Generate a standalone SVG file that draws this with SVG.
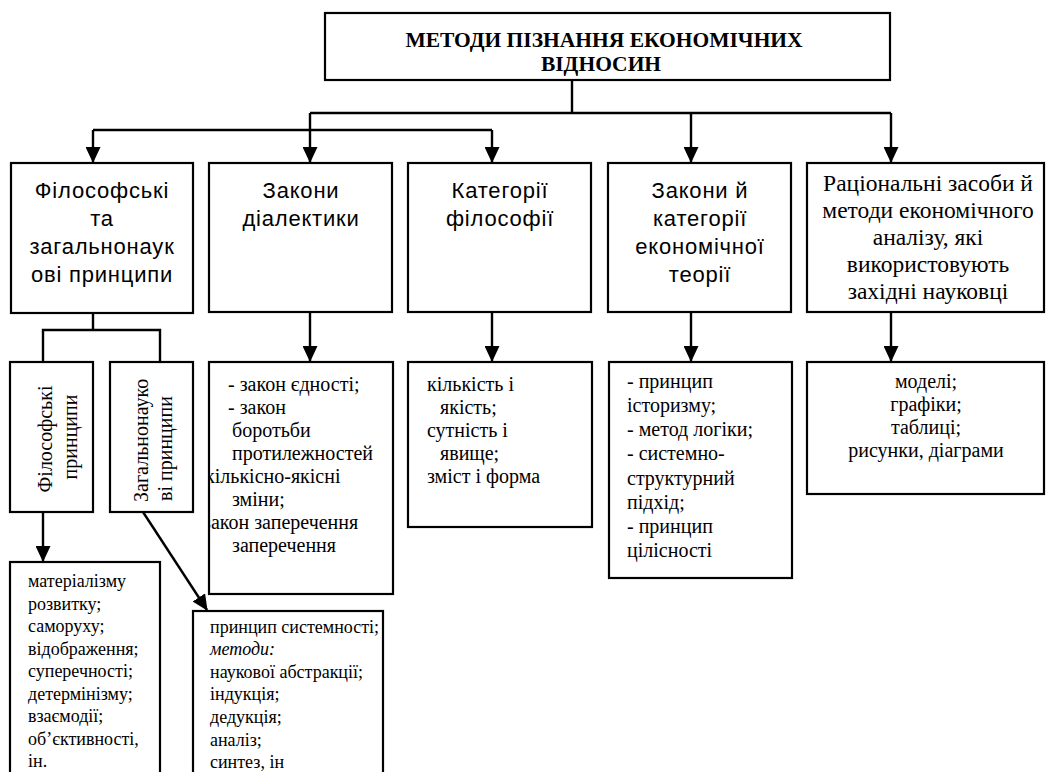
<svg xmlns="http://www.w3.org/2000/svg" width="1046" height="772" viewBox="0 0 1046 772">
<style>
.box{fill:#fff;stroke:#000;stroke-width:2.2}
.ln{fill:none;stroke:#000;stroke-width:2.4}
.title{font-family:"Liberation Serif","Times New Roman",serif;font-weight:bold;font-size:21.5px;text-anchor:middle}
.sans{font-family:"Liberation Sans",Arial,sans-serif;font-size:22px;letter-spacing:0.8px;text-anchor:middle}
.ser24{font-family:"Liberation Serif","Times New Roman",serif;font-size:23.5px;text-anchor:middle}
.ser20{font-family:"Liberation Serif","Times New Roman",serif;font-size:20px}
.ser18{font-family:"Liberation Serif","Times New Roman",serif;font-size:18px}
.mid{text-anchor:middle}
</style>
<defs>
<marker id="arr" markerUnits="userSpaceOnUse" markerWidth="16" markerHeight="15" refX="15" refY="7.5" orient="auto">
<path d="M0,0 L16,7.5 L0,15 Z" fill="#000"/>
</marker>
<clipPath id="clipE"><rect x="209" y="362" width="184" height="232"/></clipPath>
</defs>

<g id="connectors">
<path class="ln" d="M572,80 V113"/>
<path class="ln" d="M310,113 H891"/>
<path class="ln" d="M93,130 H492"/>
<path class="ln" d="M93,130 V162" marker-end="url(#arr)"/>
<path class="ln" d="M310,113 V162" marker-end="url(#arr)"/>
<path class="ln" d="M492,130 V162" marker-end="url(#arr)"/>
<path class="ln" d="M691,113 V162" marker-end="url(#arr)"/>
<path class="ln" d="M891,113 V162" marker-end="url(#arr)"/>
<path class="ln" d="M93,313 V330 M43,362 V330 H160 V362"/>
<path class="ln" d="M310,312 V361" marker-end="url(#arr)"/>
<path class="ln" d="M492,312 V361" marker-end="url(#arr)"/>
<path class="ln" d="M691,312 V361" marker-end="url(#arr)"/>
<path class="ln" d="M891,312 V361" marker-end="url(#arr)"/>
<path class="ln" d="M43,512 V561" marker-end="url(#arr)"/>
<path class="ln" d="M143,512 L207,610" marker-end="url(#arr)"/>
</g>

<g id="title">
<rect class="box" x="325" y="13" width="565" height="67"/>
<text class="title" x="604" y="47">МЕТОДИ ПІЗНАННЯ ЕКОНОМІЧНИХ</text>
<text class="title" x="601" y="71">ВІДНОСИН</text>
</g>

<g id="n1">
<rect class="box" x="11" y="163" width="182" height="150"/>
<text class="sans" x="102" y="198">Філософські</text>
<text class="sans" x="102" y="226">та</text>
<text class="sans" x="102" y="254">загальнонаук</text>
<text class="sans" x="102" y="282">ові принципи</text>
</g>

<g id="n2">
<rect class="box" x="209" y="163" width="183" height="149"/>
<text class="sans" x="301" y="198">Закони</text>
<text class="sans" x="301" y="226">діалектики</text>
</g>

<g id="n3">
<rect class="box" x="408" y="163" width="183" height="149"/>
<text class="sans" x="500" y="198">Категорії</text>
<text class="sans" x="500" y="226">філософії</text>
</g>

<g id="n4">
<rect class="box" x="608" y="163" width="183" height="149"/>
<text class="sans" x="700" y="198">Закони й</text>
<text class="sans" x="700" y="226">категорії</text>
<text class="sans" x="700" y="254">економічної</text>
<text class="sans" x="700" y="282">теорії</text>
</g>

<g id="n5">
<rect class="box" x="807" y="163" width="237" height="149"/>
<text class="ser24" x="928" y="191">Раціональні засоби й</text>
<text class="ser24" x="928" y="218">методи економічного</text>
<text class="ser24" x="928" y="245">аналізу, які</text>
<text class="ser24" x="928" y="272">використовують</text>
<text class="ser24" x="928" y="299">західні науковці</text>
</g>

<g id="nA">
<rect class="box" x="10" y="362" width="83" height="150"/>
<text class="ser20 mid" font-size="24.5" transform="translate(52,439) rotate(-90)">Філософські</text>
<text class="ser20 mid" font-size="24.5" transform="translate(77,437) rotate(-90)">принципи</text>
</g>

<g id="nB">
<rect class="box" x="110" y="362" width="83" height="150"/>
<text class="ser20" font-size="21.5" transform="translate(148,502) rotate(-90)">Загальнонауко</text>
<text class="ser20" font-size="21.5" transform="translate(172,501) rotate(-90)">ві принципи</text>
</g>

<g id="nE">
<rect class="box" x="209" y="362" width="184" height="232"/>
<g clip-path="url(#clipE)" class="ser20">
<text x="228" y="391">- закон єдності;</text>
<text x="228" y="414">- закон</text>
<text x="232" y="437">боротьби</text>
<text x="232" y="460">протилежностей</text>
<text x="205" y="483">кількісно-якісні</text>
<text x="232" y="506">зміни;</text>
<text x="203" y="529">закон заперечення</text>
<text x="232" y="552">заперечення</text>
</g>
</g>

<g id="nF">
<rect class="box" x="408" y="362" width="184" height="165"/>
<g class="ser20">
<text x="427" y="391">кількість і</text>
<text x="440" y="414">якість;</text>
<text x="427" y="437">сутність і</text>
<text x="440" y="460">явище;</text>
<text x="427" y="483">зміст і форма</text>
</g>
</g>

<g id="nG">
<rect class="box" x="609" y="362" width="183" height="216"/>
<g class="ser20">
<text x="627" y="388">- принцип</text>
<text x="627" y="412">історизму;</text>
<text x="627" y="436">- метод логіки;</text>
<text x="627" y="460">- системно-</text>
<text x="627" y="485">структурний</text>
<text x="627" y="509">підхід;</text>
<text x="627" y="533">- принцип</text>
<text x="627" y="557">цілісності</text>
</g>
</g>

<g id="nH">
<rect class="box" x="807" y="362" width="237" height="132"/>
<g class="ser20 mid">
<text x="926" y="388">моделі;</text>
<text x="926" y="411">графіки;</text>
<text x="926" y="434">таблиці;</text>
<text x="926" y="457">рисунки, діаграми</text>
</g>
</g>

<g id="nC">
<rect class="box" x="10" y="562" width="150" height="220"/>
<g class="ser18">
<text x="28" y="587">матеріалізму</text>
<text x="28" y="610">розвитку;</text>
<text x="28" y="632">саморуху;</text>
<text x="28" y="655">відображення;</text>
<text x="28" y="677">суперечності;</text>
<text x="28" y="700">детермінізму;</text>
<text x="28" y="722">взаємодії;</text>
<text x="28" y="745">об’єктивності,</text>
<text x="28" y="767">ін.</text>
</g>
</g>

<g id="nD">
<rect class="box" x="193" y="611" width="190" height="171"/>
<g class="ser18" font-size="18.5">
<text x="210" y="633">принцип системності;</text>
<text x="210" y="655" font-style="italic">методи:</text>
<text x="210" y="678">наукової абстракції;</text>
<text x="210" y="700">індукція;</text>
<text x="210" y="723">дедукція;</text>
<text x="210" y="746">аналіз;</text>
<text x="210" y="768">синтез, ін</text>
</g>
</g>
</svg>
